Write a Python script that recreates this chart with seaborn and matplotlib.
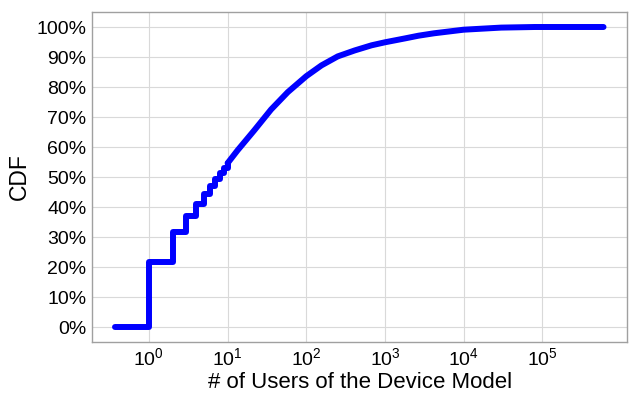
import matplotlib
matplotlib.use('Agg')
import matplotlib.pyplot as plt
import matplotlib.ticker as mticker
import seaborn as sns
import pandas as pd

# step part: small integer user counts
step_users = [0.37, 1, 2, 3, 4, 5, 6, 7, 8, 9, 10]
step_cdf = [0, 21.8, 31.7, 37.1, 41.0, 44.3, 47.0, 49.3, 51.3, 53.0, 54.6]

# smooth part: larger user counts
curve_users = [10, 13.4, 21.9, 35.7, 58.3, 100, 156, 251, 414, 676, 1000,
               1800, 2670, 4200, 10000, 30000, 80000, 600000]
curve_cdf = [54.6, 58.9, 65.6, 72.5, 78.3, 83.6, 87.2, 90.2, 92.2, 93.9, 94.9,
             96.2, 97.1, 97.9, 99.1, 99.8, 100.0, 100.0]

sns.set_style('whitegrid', {'grid.color': '#d9d9d9', 'axes.edgecolor': '#a0a0a0',
                            'text.color': 'black', 'axes.labelcolor': 'black',
                            'xtick.color': 'black', 'ytick.color': 'black'})
plt.rcParams['font.family'] = ['Liberation Sans', 'DejaVu Sans']

fig, ax = plt.subplots(figsize=(6.4, 4.0), dpi=100)
fig.subplots_adjust(left=0.144, right=0.98, bottom=0.145, top=0.97)

df_step = pd.DataFrame({'users': step_users, 'cdf': step_cdf})
df_curve = pd.DataFrame({'users': curve_users, 'cdf': curve_cdf})

sns.lineplot(data=df_step, x='users', y='cdf', color='#0000ff', linewidth=4.3,
             drawstyle='steps-post', ax=ax)
sns.lineplot(data=df_curve, x='users', y='cdf', color='#0000ff', linewidth=4.3,
             ax=ax)

ax.set_xscale('log')
ax.set_xlim(0.19, 1.2e6)
ax.set_ylim(-5, 105)
ax.set_xticks([1, 10, 100, 1000, 10000, 100000])
ax.xaxis.set_minor_locator(mticker.NullLocator())
ax.set_yticks(range(0, 101, 10))
ax.yaxis.set_major_formatter(mticker.FuncFormatter(lambda v, p: f'{int(v)}%'))
ax.tick_params(axis='both', labelsize=14, length=0, pad=4)
ax.set_xlabel('# of Users of the Device Model', fontsize=16, labelpad=2)
ax.set_ylabel('CDF', fontsize=16.5)
ax.grid(True, linewidth=0.8)
for s in ax.spines.values():
    s.set_linewidth(1.0)

plt.savefig('out.png', dpi=100)
plt.close()
